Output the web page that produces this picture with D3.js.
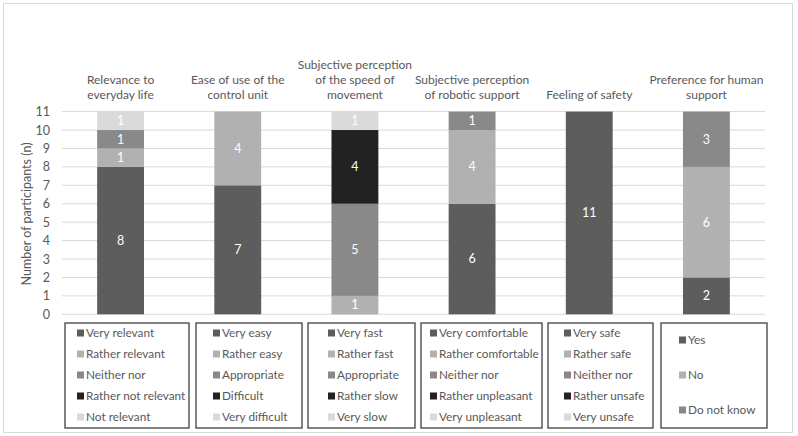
<!DOCTYPE html>
<html>
<head>
<meta charset="utf-8">
<script src="https://cdn.jsdelivr.net/npm/d3@7"></script>
<style>
  html, body { margin: 0; padding: 0; background: #fff; }
  svg { display: block; font-family: Lato, "Open Sans", sans-serif; }
</style>
</head>
<body>
<svg id="chart" width="798" height="436"></svg>
<script>
// ---- Data ----
const categories = [
  "Relevance to everyday life",
  "Ease of use of the control unit",
  "Subjective perception of the speed of movement",
  "Subjective perception of robotic support",
  "Feeling of safety",
  "Preference for human support"
];
const categoryLines = [
  ["Relevance to", "everyday life"],
  ["Ease of use of the", "control unit"],
  ["Subjective perception", "of the speed of", "movement"],
  ["Subjective perception", "of robotic support"],
  ["Feeling of safety"],
  ["Preference for human", "support"]
];
const relevanceLabels = ["Very relevant", "Rather relevant", "Neither nor", "Rather not relevant", "Not relevant"];
const relevanceValues = [8, 1, 1, 0, 1];
const easeLabels = ["Very easy", "Rather easy", "Appropriate", "Difficult", "Very difficult"];
const easeValues = [7, 4, 0, 0, 0];
const speedLabels = ["Very fast", "Rather fast", "Appropriate", "Rather slow", "Very slow"];
const speedValues = [0, 1, 5, 4, 1];
const roboticLabels = ["Very comfortable", "Rather comfortable", "Neither nor", "Rather unpleasant", "Very unpleasant"];
const roboticValues = [6, 4, 1, 0, 0];
const safetyLabels = ["Very safe", "Rather safe", "Neither nor", "Rather unsafe", "Very unsafe"];
const safetyValues = [11, 0, 0, 0, 0];
const humanLabels = ["Yes", "No", "Do not know"];
const humanValues = [2, 6, 3];
const yTicks = [0, 1, 2, 3, 4, 5, 6, 7, 8, 9, 10, 11];
const levelColors = ["#5d5d5d", "#b1b1b1", "#898989", "#222222", "#dadada"];

const legendLabels = [relevanceLabels, easeLabels, speedLabels, roboticLabels, safetyLabels, humanLabels];
const seriesValues = [relevanceValues, easeValues, speedValues, roboticValues, safetyValues, humanValues];

// ---- Layout ----
const svg = d3.select("#chart");
const textColor = "#595959";
const plot = { left: 62, right: 765, top: 111.6, bottom: 314.3 };

svg.append("rect").attr("x", 3.5).attr("y", 3.5).attr("width", 789).attr("height", 429)
  .attr("fill", "#fff").attr("stroke", "#d9d9d9").attr("stroke-width", 1);

const x = d3.scaleBand().domain(categories).range([plot.left, plot.right]).paddingInner(0.6).paddingOuter(0.3);
const y = d3.scaleLinear().domain([0, 11]).range([plot.bottom, plot.top]);

// gridlines
svg.append("g").selectAll("line").data(yTicks).join("line")
  .attr("x1", plot.left).attr("x2", plot.right)
  .attr("y1", d => y(d)).attr("y2", d => y(d))
  .attr("stroke", "#d9d9d9").attr("stroke-width", 1);

// y axis
const yAxis = d3.axisLeft(y).tickValues(yTicks).tickSize(0).tickPadding(0);
const gy = svg.append("g").attr("transform", `translate(50,0)`).call(yAxis);
gy.select(".domain").remove();
gy.selectAll("text").attr("fill", textColor).style("font-size", "12.5px").style("font-family", "Lato, sans-serif");

svg.append("text")
  .attr("transform", `translate(31,214) rotate(-90)`)
  .attr("text-anchor", "middle")
  .attr("fill", textColor).style("font-size", "12.5px")
  .text("Number of participants (n)");

// stacked bars
const rows = categories.map((c, i) => {
  const r = { category: c };
  for (let k = 0; k < 5; k++) r[k] = seriesValues[i][k] || 0;
  return r;
});
const stack = d3.stack().keys([0, 1, 2, 3, 4]);
const stacked = stack(rows);

const layers = svg.append("g").selectAll("g").data(stacked).join("g")
  .attr("fill", d => levelColors[d.key]);
layers.selectAll("rect").data(d => d.filter(s => s[1] - s[0] > 0)).join("rect")
  .attr("x", d => x(d.data.category))
  .attr("width", x.bandwidth())
  .attr("y", d => y(d[1]))
  .attr("height", d => y(d[0]) - y(d[1]));

// data labels
const labelG = svg.append("g");
stacked.forEach(layer => {
  layer.forEach(s => {
    const v = s[1] - s[0];
    if (v > 0) {
      labelG.append("text")
        .attr("x", x(s.data.category) + x.bandwidth() / 2)
        .attr("y", y((s[0] + s[1]) / 2))
        .attr("dy", "0.35em")
        .attr("text-anchor", "middle")
        .attr("fill", "#fff").style("font-size", "12.5px")
        .text(v);
    }
  });
});

// category titles above
categories.forEach((c, i) => {
  const lines = categoryLines[i];
  const cx = x(c) + x.bandwidth() / 2;
  const n = lines.length;
  lines.forEach((ln, j) => {
    svg.append("text")
      .attr("x", cx)
      .attr("y", 95 - (n - 1 - j) * 15)
      .attr("dy", "0.35em")
      .attr("text-anchor", "middle")
      .attr("fill", textColor).style("font-size", "12px")
      .text(ln);
  });
});

// legend boxes
const boxes = [
  { x0: 65, x1: 189 }, { x0: 196, x1: 302 }, { x0: 308, x1: 415 },
  { x0: 421, x1: 542 }, { x0: 548, x1: 653 }, { x0: 661, x1: 767 }
];
const legendTop = 323, legendBottom = 428;
boxes.forEach((b, i) => {
  svg.append("rect").attr("x", b.x0).attr("y", legendTop)
    .attr("width", b.x1 - b.x0).attr("height", legendBottom - legendTop)
    .attr("fill", "none").attr("stroke", "#404040").attr("stroke-width", 1.3);
  const labels = legendLabels[i];
  const n = labels.length;
  const step = n === 5 ? 21 : 35;
  const y0 = n === 5 ? 333 : 340;
  const swX = [77, 213, 328, 430, 564, 679][i];
  labels.forEach((lab, k) => {
    const yy = y0 + k * step;
    svg.append("rect").attr("x", swX).attr("y", yy - 3.5).attr("width", 7).attr("height", 7)
      .attr("fill", levelColors[k]);
    svg.append("text").attr("x", swX + 9).attr("y", yy).attr("dy", "0.35em")
      .attr("fill", textColor).style("font-size", "11.8px").text(lab);
  });
});
</script>
</body>
</html>
